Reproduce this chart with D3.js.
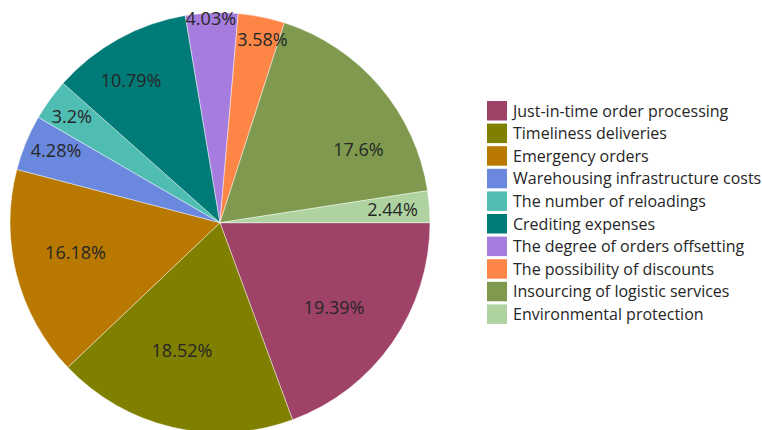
<!DOCTYPE html>
<html>
<head>
<meta charset="utf-8">
<script src="https://cdn.jsdelivr.net/npm/d3@7/dist/d3.min.js"></script>
<style>
  html, body { margin: 0; padding: 0; background: #fff; }
  svg { display: block; }
</style>
</head>
<body>
<svg id="chart" width="762" height="430"></svg>
<script>
// Share of each logistics factor, in percent
const categories = [
  "Just-in-time order processing",
  "Timeliness deliveries",
  "Emergency orders",
  "Warehousing infrastructure costs",
  "The number of reloadings",
  "Crediting expenses",
  "The degree of orders offsetting",
  "The possibility of discounts",
  "Insourcing of logistic services",
  "Environmental protection"
];
const values = [19.39, 18.52, 16.18, 4.28, 3.2, 10.79, 4.03, 3.58, 17.6, 2.44];
const labels = ["19.39%", "18.52%", "16.18%", "4.28%", "3.2%", "10.79%", "4.03%", "3.58%", "17.6%", "2.44%"];
const colors = ["#9f4268", "#7f7f00", "#b97900", "#6a89de", "#4fbdb2", "#007b78", "#a67ddf", "#fd8546", "#7f9a4f", "#afd3a0"];

// Value label placement: distance from the centre (fraction of radius)
// and a small angular nudge (degrees) away from the slice's mid-angle
const labelRadius = [0.678, 0.633, 0.703, 0.854, 0.867, 0.80, 0.974, 0.897, 0.745, 0.824];
const labelNudge = [1.9, 3.5, 2.6, 1.5, -0.3, -3.0, -0.3, 1.6, 12.7, 0];

const svg = d3.select("#chart");
const cx = 220, cy = 222.7, r = 210;

const pie = d3.pie()
  .value(d => d)
  .sort(null)
  .startAngle(Math.PI / 2)
  .endAngle(Math.PI / 2 + 2 * Math.PI);

const arcs = pie(values);
const arc = d3.arc().innerRadius(0).outerRadius(r);

const g = svg.append("g").attr("transform", `translate(${cx},${cy})`);

g.selectAll("path.slice")
  .data(arcs)
  .join("path")
  .attr("class", "slice")
  .attr("d", arc)
  .attr("fill", (d, i) => colors[i])
  .attr("stroke", "rgba(255,255,255,0.55)")
  .attr("stroke-width", 0.8);

g.selectAll("text.val")
  .data(arcs)
  .join("text")
  .attr("class", "val")
  .attr("transform", (d, i) => {
    const a = (d.startAngle + d.endAngle) / 2 + labelNudge[i] * Math.PI / 180;
    const lr = r * labelRadius[i];
    return `translate(${lr * Math.sin(a)},${-lr * Math.cos(a)})`;
  })
  .attr("text-anchor", "middle")
  .attr("dy", "0.36em")
  .attr("font-family", "'Open Sans', sans-serif")
  .attr("font-size", 18)
  .attr("fill", "#262626")
  .text((d, i) => labels[i]);

// Legend
const legend = svg.append("g").attr("transform", "translate(487,111)");
const rowH = 22.6;
const rows = legend.selectAll("g.row")
  .data(categories)
  .join("g")
  .attr("class", "row")
  .attr("transform", (d, i) => `translate(0,${i * rowH})`);

rows.append("rect")
  .attr("x", 0).attr("y", -10)
  .attr("width", 20).attr("height", 19.5)
  .attr("fill", (d, i) => colors[i]);

rows.append("text")
  .attr("x", 26).attr("y", 5.6)
  .attr("font-family", "'Open Sans', sans-serif")
  .attr("font-size", 16)
  .attr("fill", "#262626")
  .text(d => d);
</script>
</body>
</html>
